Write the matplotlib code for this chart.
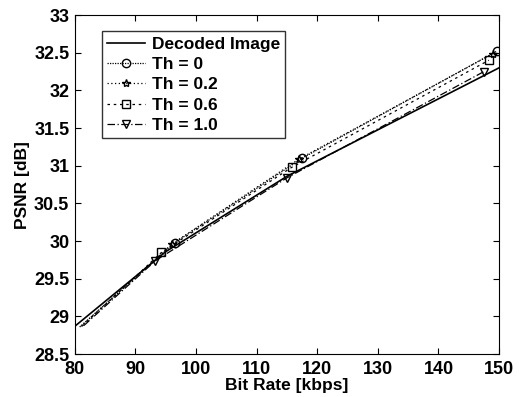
import matplotlib
matplotlib.use("Agg")
import matplotlib.pyplot as plt

# data
dec_rate = [80.0, 95.0, 115.0, 150.0]
dec_psnr = [28.87, 29.86, 30.86, 32.30]

th0_rate = [80.8, 96.5, 117.5, 149.6]
th0_psnr = [28.86, 29.98, 31.10, 32.52]

th02_rate = [81.0, 96.0, 117.0, 149.0]
th02_psnr = [28.87, 29.96, 31.09, 32.49]

th06_rate = [81.2, 94.3, 115.8, 148.3]
th06_psnr = [28.87, 29.85, 30.98, 32.40]

th10_rate = [81.5, 93.3, 115.0, 147.5]
th10_psnr = [28.88, 29.74, 30.84, 32.25]

x_ticks = [80, 90, 100, 110, 120, 130, 140, 150]
y_ticks = [28.5, 29, 29.5, 30, 30.5, 31, 31.5, 32, 32.5, 33]
y_labels = ["28.5", "29", "29.5", "30", "30.5", "31", "31.5", "32", "32.5", "33"]

plt.rcParams["font.family"] = ["Liberation Sans", "DejaVu Sans"]
plt.rcParams["font.weight"] = "bold"

fig = plt.figure(figsize=(5.27, 3.97), dpi=100)
ax = fig.add_axes([0.142, 0.108, 0.805, 0.854])

ax.plot(dec_rate, dec_psnr, color="black", lw=1.2, label="Decoded Image")
mk = dict(color="black", markerfacecolor="none", markersize=6, lw=0.9, markevery=[1, 2, 3])
ax.plot(th0_rate, th0_psnr, marker="o", linestyle=(0, (1, 1)), label="Th = 0", **mk)
ax.plot(th02_rate, th02_psnr, marker="*", linestyle=(0, (1, 2)), label="Th = 0.2", **mk)
ax.plot(th06_rate, th06_psnr, marker="s", linestyle=(0, (2, 3)), label="Th = 0.6", **mk)
ax.plot(th10_rate, th10_psnr, marker="v", linestyle=(0, (6, 2, 1, 2)), label="Th = 1.0", **mk)

ax.set_xlim(80, 150)
ax.set_ylim(28.5, 33)
ax.set_xticks(x_ticks)
ax.set_yticks(y_ticks)
ax.set_yticklabels(y_labels)
ax.tick_params(direction="in", top=True, right=True, labelsize=13, length=4)
ax.tick_params(axis="x", pad=5)
ax.tick_params(axis="y", pad=4)
for lab in ax.get_xticklabels() + ax.get_yticklabels():
    lab.set_fontweight("bold")
ax.set_xlabel("Bit Rate [kbps]", fontsize=12.5, fontweight="bold", labelpad=0)
ax.set_ylabel("PSNR [dB]", fontsize=12.5, fontweight="bold", labelpad=3)

leg = ax.legend(loc="upper left", bbox_to_anchor=(0.063, 0.952), fontsize=12.5,
                frameon=True, fancybox=False, edgecolor="black", handlelength=2.2,
                borderpad=0.3, labelspacing=0.3, handletextpad=0.4,
                borderaxespad=0)
leg.get_frame().set_linewidth(1.0)
for t in leg.get_texts():
    t.set_fontweight("bold")

fig.savefig("out.png", dpi=100)
